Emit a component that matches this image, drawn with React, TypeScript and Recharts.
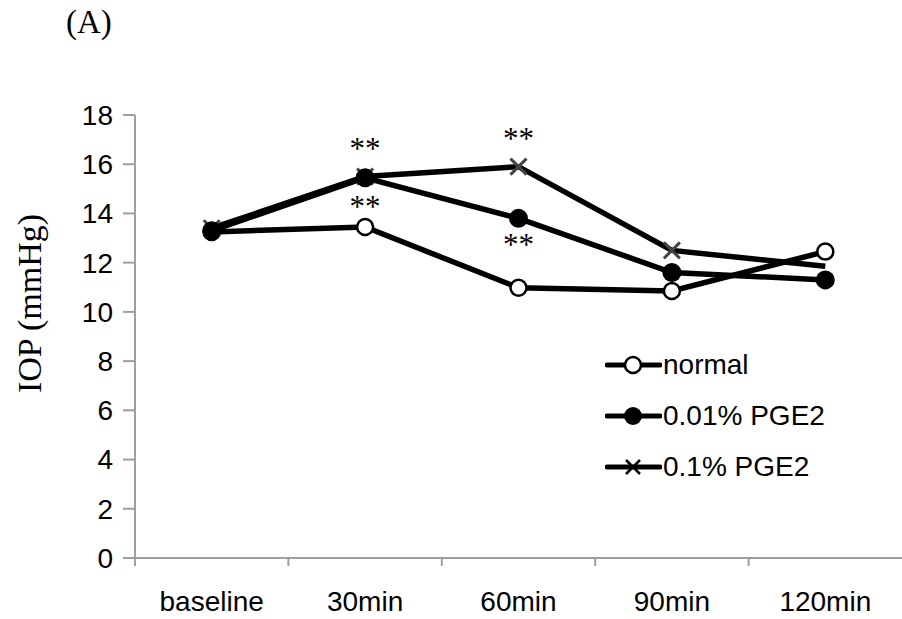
import React from "react";
import {
  LineChart,
  Line,
  XAxis,
  YAxis,
  Legend,
  LabelList,
  Label
} from "recharts";

const times = ["baseline", "30min", "60min", "90min", "120min"];
const normalIOP = [13.25, 13.45, 10.98, 10.85, 12.45];
const pge001IOP = [13.3, 15.45, 13.8, 11.6, 11.3];
const pge01IOP = [13.4, 15.5, 15.9, 12.5, 11.85];
// significance marks
const normalSig = ["", "**", "", "", ""];
const pge001Sig = ["", "", "**", "", ""];
const pge01Sig = ["", "**", "**", "", ""];
const yTicks = [0, 2, 4, 6, 8, 10, 12, 14, 16, 18];

const data = times.map((t, i) => ({
  time: t,
  normal: normalIOP[i],
  pge001: pge001IOP[i],
  pge01: pge01IOP[i],
  normalSig: normalSig[i],
  pge001Sig: pge001Sig[i],
  pge01Sig: pge01Sig[i]
}));

const W = 902;
const H = 619;
const Y_AXIS_W = 135;
const PLOT_W = W - Y_AXIS_W;
const GREY = "#9e9e9e";
const SANS = "'Liberation Sans', Arial, sans-serif";
const SERIF = "'Liberation Serif', 'Times New Roman', serif";

const OpenDot = (p: any) => {
  if (p.cx == null) return null;
  return <circle key={p.index} cx={p.cx} cy={p.cy} r={8} fill="#fff" stroke="#000" strokeWidth={2.5} />;
};

const FilledDot = (p: any) => {
  if (p.cx == null) return null;
  return <circle key={p.index} cx={p.cx} cy={p.cy} r={9.5} fill="#000" />;
};

const CrossDot = (p: any) => {
  // the last cross is not drawn in the original figure
  if (p.cx == null || p.index === times.length - 1) return <g key={p.index} />;
  const s = 8;
  return (
    <g key={p.index} stroke="#444" strokeWidth={3}>
      <line x1={p.cx - s} y1={p.cy - s} x2={p.cx + s} y2={p.cy + s} />
      <line x1={p.cx - s} y1={p.cy + s} x2={p.cx + s} y2={p.cy - s} />
    </g>
  );
};

const CategoryTick = (props: any) => {
  const { x, y, payload } = props;
  const band = PLOT_W / times.length;
  return (
    <g>
      <line x1={x - band / 2} y1={y} x2={x - band / 2} y2={y + 8} stroke={GREY} strokeWidth={2} />
      <text x={x} y={y + 53} textAnchor="middle" fontSize={28} fontFamily={SANS} fill="#000">
        {payload.value}
      </text>
    </g>
  );
};

const legendItems = [
  { name: "normal", marker: "open" },
  { name: "0.01% PGE2", marker: "filled" },
  { name: "0.1% PGE2", marker: "cross" }
];

const LegendMarker = ({ kind }: { kind: string }) => (
  <svg width={57} height={24} style={{ display: "block" }}>
    <line x1={2} y1={12} x2={55} y2={12} stroke="#000" strokeWidth={5} strokeLinecap="round" />
    {kind === "open" && <circle cx={28} cy={12} r={8} fill="#fff" stroke="#000" strokeWidth={2.5} />}
    {kind === "filled" && <circle cx={28} cy={12} r={9} fill="#000" />}
    {kind === "cross" && (
      <g stroke="#000" strokeWidth={2.5}>
        <line x1={21} y1={5} x2={35} y2={19} />
        <line x1={21} y1={19} x2={35} y2={5} />
      </g>
    )}
  </svg>
);

const renderLegend = () => (
  <div>
    {legendItems.map((it) => (
      <div key={it.name} style={{ display: "flex", alignItems: "center", height: 51 }}>
        <LegendMarker kind={it.marker} />
        <span style={{ fontFamily: SANS, fontSize: 28, color: "#000", marginLeft: 1 }}>{it.name}</span>
      </div>
    ))}
  </div>
);

export default function App() {
  return (
    <div style={{ position: "relative", width: W, height: H, background: "#fff" }}>
      <style>{`body{margin:0}`}</style>
      <div
        style={{
          position: "absolute",
          left: 66,
          top: 6,
          fontFamily: SERIF,
          fontSize: 33,
          lineHeight: "33px",
          color: "#000",
          zIndex: 2
        }}
      >
        (A)
      </div>
      <LineChart width={W} height={H} data={data} margin={{ top: 115, right: 0, bottom: 0, left: 0 }}>
        <XAxis
          dataKey="time"
          scale="band"
          height={61}
          tickSize={0}
          tickMargin={0}
          tick={<CategoryTick />}
          axisLine={{ stroke: GREY, strokeWidth: 2 }}
          tickLine={false}
          interval={0}
        />
        <YAxis
          width={Y_AXIS_W}
          domain={[0, 18]}
          ticks={yTicks}
          interval={0}
          tickSize={12}
          tickMargin={10}
          axisLine={{ stroke: GREY, strokeWidth: 2 }}
          tickLine={{ stroke: GREY, strokeWidth: 2 }}
          tick={{ fontSize: 28, fontFamily: SANS, fill: "#000" }}
        >
          <Label
            content={(p: any) => {
              const vb = p.viewBox || { x: 0, y: 115, height: 443 };
              const cx = 29;
              const cy = vb.y + vb.height / 2 - 33;
              return (
                <text
                  x={cx}
                  y={cy}
                  transform={`rotate(-90 ${cx} ${cy})`}
                  textAnchor="middle"
                  dominantBaseline="central"
                  fontSize={34}
                  fontFamily={SERIF}
                  fill="#000"
                >
                  IOP (mmHg)
                </text>
              );
            }}
          />
        </YAxis>
        <Legend
          content={renderLegend}
          layout="vertical"
          align="center"
          verticalAlign="middle"
          wrapperStyle={{ left: 605, top: 339, width: "auto" }}
        />
        <Line
          type="linear"
          dataKey="normal"
          stroke="#000"
          strokeWidth={5.5}
          dot={OpenDot}
          activeDot={false}
          isAnimationActive={false}
        >
          <LabelList dataKey="normalSig" position="top" offset={10} fontSize={31} fontFamily={SERIF} fill="#000" />
        </Line>
        <Line
          type="linear"
          dataKey="pge01"
          stroke="#000"
          strokeWidth={5.5}
          dot={CrossDot}
          activeDot={false}
          isAnimationActive={false}
        >
          <LabelList dataKey="pge01Sig" position="top" offset={18} fontSize={31} fontFamily={SERIF} fill="#000" />
        </Line>
        <Line
          type="linear"
          dataKey="pge001"
          stroke="#000"
          strokeWidth={5.5}
          dot={FilledDot}
          activeDot={false}
          isAnimationActive={false}
        >
          <LabelList dataKey="pge001Sig" position="bottom" offset={15} fontSize={31} fontFamily={SERIF} fill="#000" />
        </Line>
      </LineChart>
    </div>
  );
}
